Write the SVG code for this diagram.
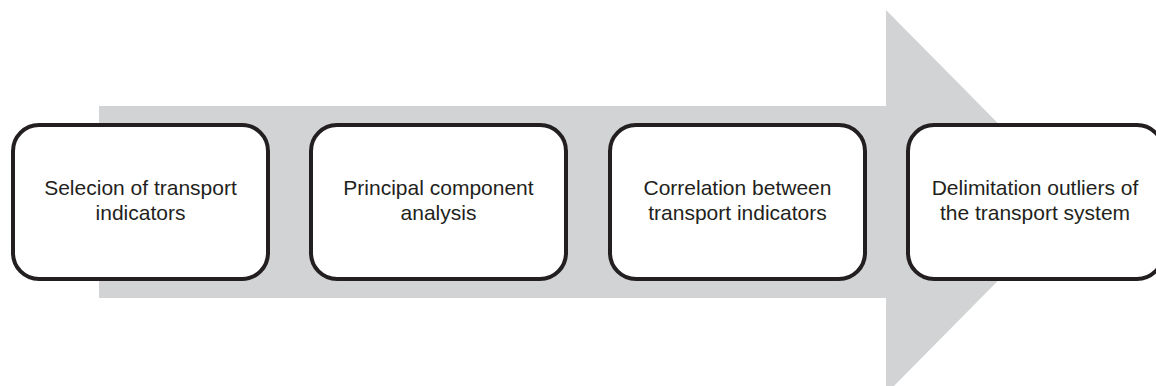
<svg xmlns="http://www.w3.org/2000/svg" width="1156" height="386" viewBox="0 0 1156 386">
<style>
.box{fill:#ffffff;stroke:#231f20;stroke-width:4}
.lbl{font-family:"Liberation Sans",Arial,sans-serif;font-size:21px;fill:#231f20;text-anchor:middle}
</style>
<rect width="1156" height="386" fill="#ffffff"/>
<g id="connectors">
<polygon points="99,106 886,106 886,10 1076,202 886,394 886,298 99,298" fill="#d1d3d4"/>
</g>
<g id="node1">
<rect class="box" x="13" y="125" width="255" height="154" rx="26"/>
<text class="lbl" x="140.5" y="195">Selecion of transport</text>
<text class="lbl" x="140.5" y="220">indicators</text>
</g>
<g id="node2">
<rect class="box" x="311" y="125" width="255" height="154" rx="26"/>
<text class="lbl" x="438.5" y="195">Principal component</text>
<text class="lbl" x="438.5" y="220">analysis</text>
</g>
<g id="node3">
<rect class="box" x="610" y="125" width="255" height="154" rx="26"/>
<text class="lbl" x="737.5" y="195">Correlation between</text>
<text class="lbl" x="737.5" y="220">transport indicators</text>
</g>
<g id="node4">
<rect class="box" x="908" y="125" width="255" height="154" rx="26"/>
<text class="lbl" x="1035" y="195">Delimitation outliers of</text>
<text class="lbl" x="1035" y="220">the transport system</text>
</g>
</svg>
